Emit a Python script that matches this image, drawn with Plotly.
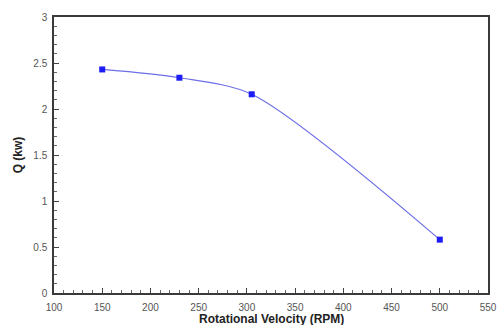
import plotly.graph_objects as go

rpm = [150, 230, 305, 500]
q_kw = [2.43, 2.34, 2.16, 0.58]
x_title = "<b>Rotational Velocity (RPM)</b>"
y_title = "<b>Q (kw)</b>"

fig = go.Figure()
fig.add_trace(go.Scatter(
    x=rpm, y=q_kw, mode="lines+markers",
    line=dict(shape="spline", color="#6e6ee8", width=1.2, smoothing=0.8),
    marker=dict(symbol="square", size=6, color="#1c1cf5"),
    showlegend=False,
))

axis_common = dict(
    showgrid=False, zeroline=False, showline=True, linecolor="#3a3a3a", linewidth=1.5,
    mirror=True, ticks="inside", ticklen=5, tickcolor="#444", tickwidth=1,
    tickfont=dict(family="Liberation Sans, Arial", size=10, color="#555"),
    automargin=False,
)
fig.update_xaxes(
    range=[100, 550], dtick=50, tick0=100, ticklabelstandoff=4,
    minor=dict(ticks="inside", ticklen=3, dtick=10, tickcolor="#666"),
    **axis_common,
)
fig.update_yaxes(
    range=[0, 3], dtick=0.5, tick0=0, ticklabelstandoff=3,
    minor=dict(ticks="inside", ticklen=3, dtick=0.1, tickcolor="#666"),
    title=dict(text=y_title, font=dict(family="Liberation Sans, Arial", size=12, color="#222"), standoff=8),
    **axis_common,
)
fig.add_annotation(
    text=x_title, xref="paper", yref="paper", x=0.5, y=0,
    xanchor="center", yanchor="top", yshift=-17, showarrow=False,
    font=dict(family="Liberation Sans, Arial", size=12, color="#222"),
)
fig.update_layout(
    width=498, height=325,
    margin=dict(l=54, r=10, t=17, b=32),
    plot_bgcolor="white", paper_bgcolor="white",
)
fig.write_html("out.html")
